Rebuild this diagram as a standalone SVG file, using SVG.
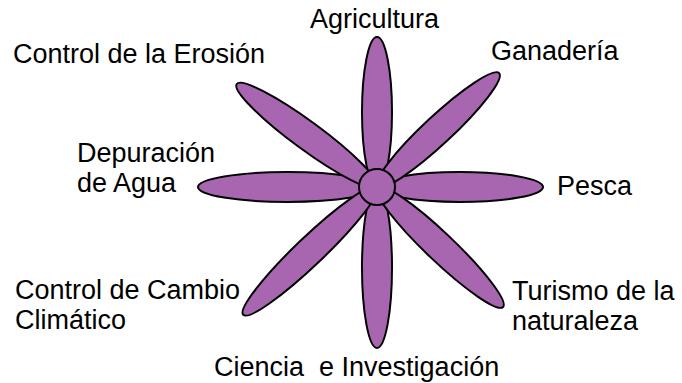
<svg xmlns="http://www.w3.org/2000/svg" width="682" height="383" viewBox="0 0 682 383">
<style>
.petal{fill:#a966b0;stroke:#000;stroke-width:2}
.lbl{font-family:"Liberation Sans",Arial,sans-serif;font-size:27px;fill:#000}
</style>
<rect width="682" height="383" fill="#fff"/>
<g id="petals">
<g id="p-top"><ellipse class="petal" cx="0" cy="0" rx="75" ry="15" transform="translate(377,187) rotate(-90) translate(75,0)"/></g>
<g id="p-bottom"><ellipse class="petal" cx="0" cy="0" rx="80.5" ry="15" transform="translate(377,187) rotate(90) translate(80.5,0)"/></g>
<g id="p-left"><ellipse class="petal" cx="0" cy="0" rx="89.5" ry="15" transform="translate(377,187) rotate(180) translate(89.5,0)"/></g>
<g id="p-right"><ellipse class="petal" cx="0" cy="0" rx="83" ry="15" transform="translate(377,187) translate(83,0)"/></g>
<g id="p-ur"><ellipse class="petal" cx="0" cy="0" rx="83.5" ry="14" transform="translate(377,187) rotate(-43) translate(83.5,0)"/></g>
<g id="p-ul"><ellipse class="petal" cx="0" cy="0" rx="87" ry="14" transform="translate(377,187) rotate(-143.7) translate(87,0)"/></g>
<g id="p-ll"><ellipse class="petal" cx="0" cy="0" rx="92.5" ry="14" transform="translate(377,187) rotate(136.3) translate(92.5,0)"/></g>
<g id="p-lr"><ellipse class="petal" cx="0" cy="0" rx="87" ry="14" transform="translate(377,187) rotate(43.6) translate(87,0)"/></g>
</g>
<g id="center"><circle class="petal" cx="377" cy="187" r="18"/></g>
<g id="labels">
<g id="t-agri"><text class="lbl" x="310" y="28">Agricultura</text></g>
<g id="t-gana"><text class="lbl" x="491" y="60">Ganadería</text></g>
<g id="t-eros"><text class="lbl" x="13" y="63">Control de la Erosión</text></g>
<g id="t-depu"><text class="lbl" x="77" y="162">Depuración</text><text class="lbl" x="77" y="192">de Agua</text></g>
<g id="t-pesca"><text class="lbl" x="557" y="195">Pesca</text></g>
<g id="t-clima"><text class="lbl" x="15" y="299">Control de Cambio</text><text class="lbl" x="15" y="329">Climático</text></g>
<g id="t-tur"><text class="lbl" x="512" y="300">Turismo de la</text><text class="lbl" x="512" y="330">naturaleza</text></g>
<g id="t-cien"><text class="lbl" x="214" y="376" xml:space="preserve">Ciencia  e Investigación</text></g>
</g>
</svg>
